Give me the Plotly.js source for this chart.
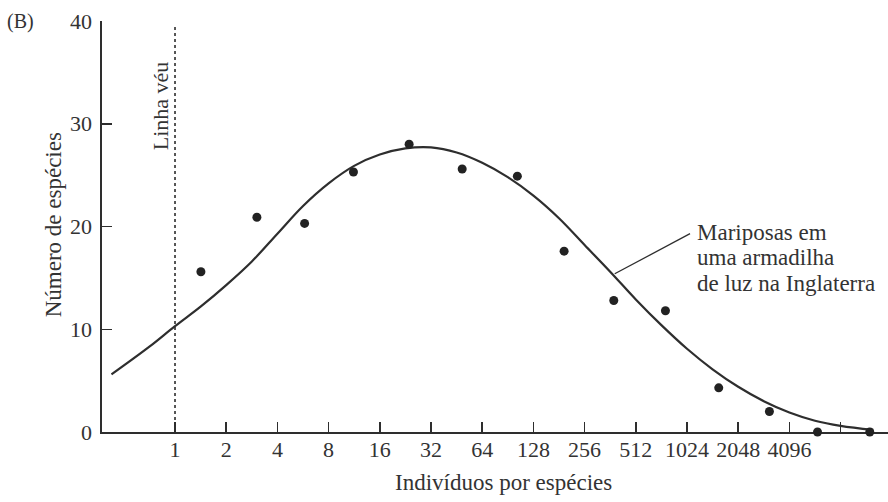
<!DOCTYPE html>
<html>
<head>
<meta charset="utf-8">
<script src="https://cdn.plot.ly/plotly-3.0.1.min.js"></script>
<style>
  html, body { margin: 0; padding: 0; background: #ffffff; }
  #chart { width: 888px; height: 502px; }
</style>
</head>
<body>
<div id="chart"></div>
<script>
// Octave classes on the x axis (individuals per species, log2 spacing)
const tickValues = [1, 2, 4, 8, 16, 32, 64, 128, 256, 512, 1024, 2048, 4096, 8192];
const tickLabels = ['1', '2', '4', '8', '16', '32', '64', '128', '256', '512', '1024', '2048', '4096', ''];
const yTicks = [0, 10, 20, 30, 40];

// Observed moths per octave class (points)
const classMid = [1.42, 3.03, 5.78, 11.2, 23.8, 48.8, 103, 194, 380, 765, 1574, 3126, 5995, 12160];
const speciesCount = [15.6, 20.9, 20.3, 25.3, 28.0, 25.6, 24.9, 17.6, 12.8, 11.8, 4.3, 2.0, 0, 0];

// Fitted lognormal curve, read along the octave axis
const curveX = [0.423, 0.707, 1, 1.414, 2, 2.83, 4, 5.66, 8, 11.3, 16, 22.6, 32, 45.3, 64, 90.5,
                128, 181, 256, 362, 512, 724, 1024, 1448, 2048, 2896, 4096, 5793, 8192, 12760];
const curveY = [5.6, 8.3, 10.3, 12.2, 14.3, 16.6, 19.3, 22.0, 24.2, 25.9, 27.0, 27.6, 27.7, 27.2, 26.2, 24.8,
                23.0, 20.8, 18.2, 15.6, 12.9, 10.4, 8.1, 6.1, 4.4, 3.0, 1.9, 1.1, 0.6, 0.2];

// Veil line at one individual per species
const veilX = [1, 1];
const veilY = [0, 39.6];

// Leader from the curve to its label
const leaderX = [385, 1067];
const leaderY = [15.4, 19.3];

const ink = '#2e2e2e';
const serif = '"Liberation Serif", "Times New Roman", serif';

const traces = [
  {
    x: veilX, y: veilY, mode: 'lines', type: 'scatter',
    line: { color: ink, width: 1.6, dash: 'dot' },
    hoverinfo: 'skip', showlegend: false
  },
  {
    x: curveX, y: curveY, mode: 'lines', type: 'scatter',
    line: { color: ink, width: 2.2, shape: 'spline', smoothing: 1 },
    showlegend: false
  },
  {
    x: leaderX, y: leaderY, mode: 'lines', type: 'scatter',
    line: { color: ink, width: 1.3 },
    hoverinfo: 'skip', showlegend: false
  },
  {
    x: classMid, y: speciesCount, mode: 'markers', type: 'scatter',
    marker: { color: '#222222', size: 9 },
    cliponaxis: false, showlegend: false
  }
];

const px2xp = p => (p - 102) / 786;
const px2yp = p => (431.7 - p) / 411;

const layout = {
  width: 888, height: 502,
  margin: { l: 102, r: 0, t: 21, b: 70 },
  paper_bgcolor: '#ffffff', plot_bgcolor: '#ffffff',
  font: { family: serif, color: '#333333', size: 22 },
  showlegend: false,
  xaxis: {
    type: 'log',
    autorange: false,
    range: [-0.4293, 4.1922],
    tickmode: 'array',
    tickvals: tickValues,
    ticktext: tickLabels,
    ticks: 'inside', ticklen: 10, tickwidth: 1.5, tickcolor: ink,
    ticklabelstandoff: -3,
    showline: true, linecolor: ink, linewidth: 1.6,
    showgrid: false, zeroline: false,
    layer: 'below traces',
    tickfont: { family: serif, size: 22, color: '#333333' }
  },
  yaxis: {
    autorange: false,
    range: [0, 40],
    tickmode: 'array',
    tickvals: yTicks,
    ticks: 'inside', ticklen: 10, tickwidth: 1.5, tickcolor: ink,
    ticklabelstandoff: 4,
    showline: true, linecolor: ink, linewidth: 1.6,
    showgrid: false, zeroline: false,
    layer: 'below traces',
    tickfont: { family: serif, size: 22, color: '#333333' }
  },
  annotations: [
    { text: 'Indivíduos por espécies', xref: 'paper', yref: 'paper',
      x: px2xp(503), y: px2yp(481.7), xanchor: 'center', yanchor: 'middle',
      showarrow: false, font: { family: serif, size: 23, color: '#333333' } },
    { text: 'Número de espécies', xref: 'paper', yref: 'paper',
      x: px2xp(53), y: px2yp(225), xanchor: 'center', yanchor: 'middle', textangle: -90,
      showarrow: false, font: { family: serif, size: 23, color: '#333333' } },
    { text: 'Linha véu', xref: 'paper', yref: 'paper',
      x: px2xp(160), y: px2yp(106), xanchor: 'center', yanchor: 'middle', textangle: -90,
      showarrow: false, font: { family: serif, size: 22, color: '#333333' } },
    { text: '(B)', xref: 'paper', yref: 'paper',
      x: px2xp(20.5), y: px2yp(21), xanchor: 'center', yanchor: 'middle',
      showarrow: false, font: { family: serif, size: 20, color: '#333333' } },
    { text: 'Mariposas em', xref: 'paper', yref: 'paper',
      x: px2xp(695), y: px2yp(232), xanchor: 'left', yanchor: 'middle',
      showarrow: false, font: { family: serif, size: 23, color: '#333333' } },
    { text: 'uma armadilha', xref: 'paper', yref: 'paper',
      x: px2xp(695), y: px2yp(257.5), xanchor: 'left', yanchor: 'middle',
      showarrow: false, font: { family: serif, size: 23, color: '#333333' } },
    { text: 'de luz na Inglaterra', xref: 'paper', yref: 'paper',
      x: px2xp(695), y: px2yp(283.5), xanchor: 'left', yanchor: 'middle',
      showarrow: false, font: { family: serif, size: 23, color: '#333333' } }
  ]
};

Plotly.newPlot('chart', traces, layout, { staticPlot: true, displayModeBar: false });
</script>
</body>
</html>
